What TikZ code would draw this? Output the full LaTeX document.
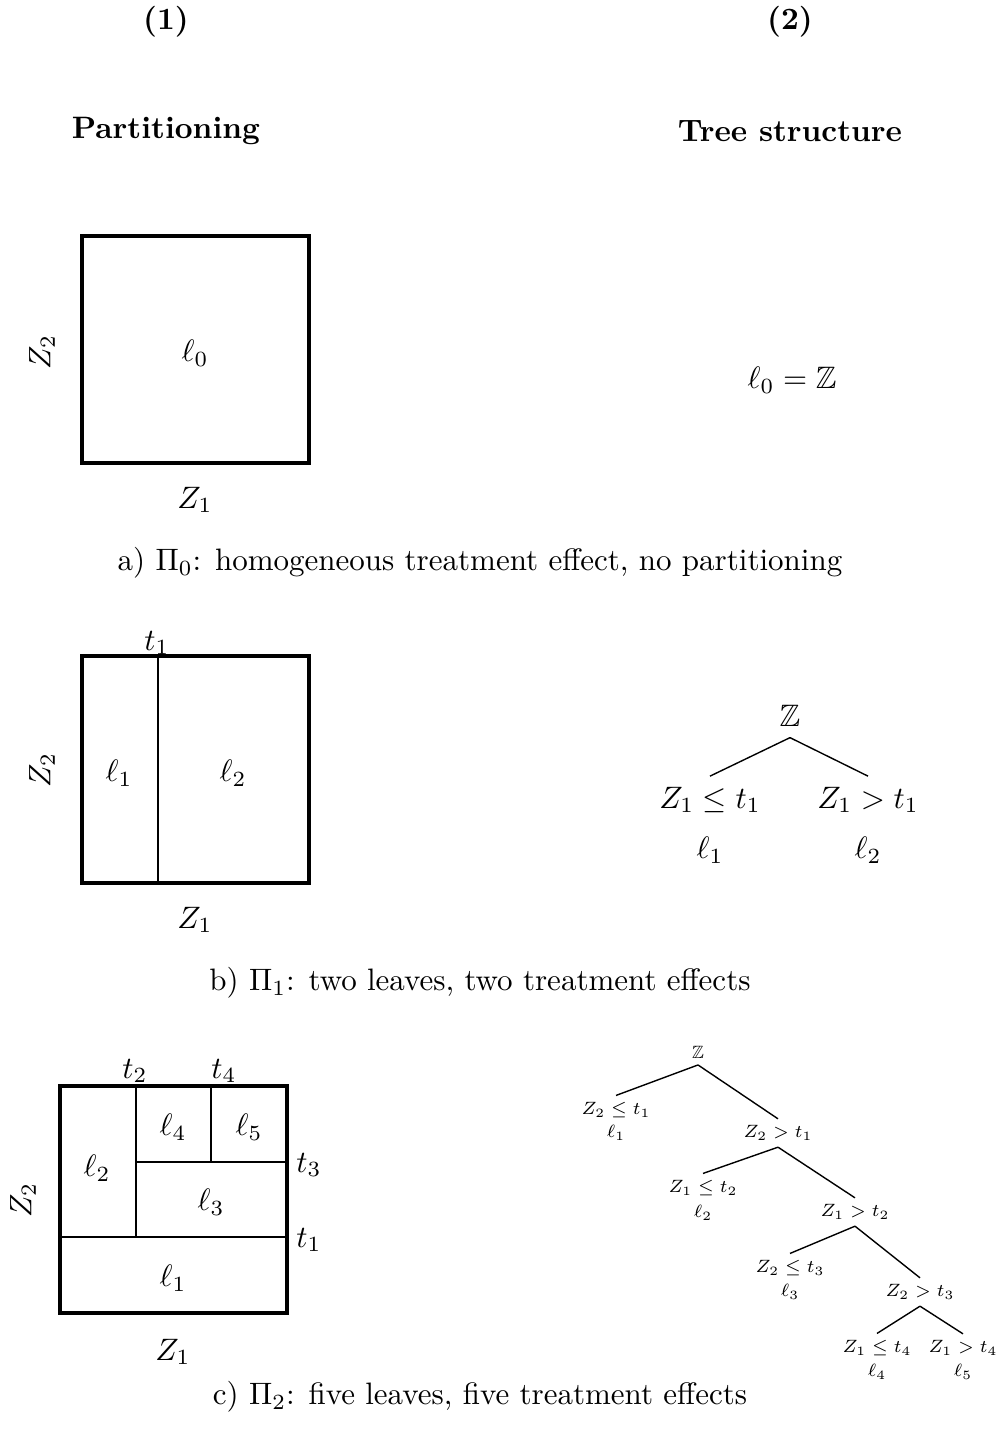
\documentclass[tikz,border=0pt]{standalone}
\usepackage{amssymb}
\newcommand{\tinymath}[1]{\scalebox{0.82}{\scriptsize$#1$}}
\begin{document}
\begin{tikzpicture}[x=0.3226pt,y=-0.3226pt,
  box/.style={line width=1.1pt,line join=miter},
  split/.style={line width=0.7pt},
  edge/.style={line width=0.45pt},
  sm/.style={inner sep=2pt},
  head/.style={font=\bfseries}]
\useasboundingbox (0,0) rectangle (997,1440);

% headings
\node[head] (h1) at (166,22) {(1)};
\node[head] (h2) at (790,22) {(2)};
\node[head] (p1) at (166,131) {Partitioning};
\node[head] (p2) at (790,131) {Tree structure};

% ---------- a) ----------
\draw[box] (82,236) rectangle (309,463);
\node (la0) at (195,353) {$\ell_0$};
\node[rotate=90] (za2) at (42,352) {$Z_2$};
\node (za1) at (195,500) {$Z_1$};
\node (ta) at (792,380) {$\ell_0=\mathbb{Z}$};
\node (capa) at (480,563) {a) $\Pi_0$: homogeneous treatment effect, no partitioning};

% ---------- b) ----------
\draw[box] (82,656) rectangle (309,883);
\draw[split] (158,656) -- (158,883);
\node (tb1) at (157,643) {$t_1$};
\node (lb1) at (119,773) {$\ell_1$};
\node (lb2) at (233,773) {$\ell_2$};
\node[rotate=90] (zb2) at (42,770) {$Z_2$};
\node (zb1) at (195,920) {$Z_1$};

\node (rb) at (790,716) {$\mathbb{Z}$};
\node (cb1) at (710,800) {$Z_1\leq t_1$};
\node (cb2) at (868,800) {$Z_1>t_1$};
\node (bl1) at (710,850) {$\ell_1$};
\node (bl2) at (868,850) {$\ell_2$};
\draw[edge] (rb.south) -- (cb1.north);
\draw[edge] (rb.south) -- (cb2.north);
\node (capb) at (480,983) {b) $\Pi_1$: two leaves, two treatment effects};

% ---------- c) ----------
\draw[box] (60,1086) rectangle (287,1313);
\draw[split] (136,1086) -- (136,1237);
\draw[split] (211,1086) -- (211,1162);
\draw[split] (136,1162) -- (287,1162);
\draw[split] (60,1237) -- (287,1237);
\node (tc2) at (135,1071) {$t_2$};
\node (tc4) at (224,1071) {$t_4$};
\node (tc3) at (309,1165) {$t_3$};
\node (tc1) at (309,1240) {$t_1$};
\node (lc2) at (97,1168) {$\ell_2$};
\node (lc4) at (173,1127) {$\ell_4$};
\node (lc5) at (249,1127) {$\ell_5$};
\node (lc3) at (211,1202) {$\ell_3$};
\node (lc1) at (173,1278) {$\ell_1$};
\node[rotate=90] (zc2) at (23,1200) {$Z_2$};
\node (zc1) at (173,1352) {$Z_1$};

\node[sm] (rc) at (698,1052) {\tinymath{\mathbb{Z}}};
\node[sm] (c1) at (616,1110) {\tinymath{Z_2\leq t_1}};
\node[sm] (e1) at (616,1133) {\tinymath{\ell_1}};
\node[sm] (c2) at (778,1133) {\tinymath{Z_2>t_1}};
\node[sm] (c3) at (703,1188) {\tinymath{Z_1\leq t_2}};
\node[sm] (e2) at (703,1213) {\tinymath{\ell_2}};
\node[sm] (c4) at (855,1212) {\tinymath{Z_1>t_2}};
\node[sm] (c5) at (790,1268) {\tinymath{Z_2\leq t_3}};
\node[sm] (e3) at (790,1292) {\tinymath{\ell_3}};
\node[sm] (c6) at (920,1292) {\tinymath{Z_2>t_3}};
\node[sm] (c7) at (877,1348) {\tinymath{Z_1\leq t_4}};
\node[sm] (e4) at (877,1372) {\tinymath{\ell_4}};
\node[sm] (c8) at (963,1348) {\tinymath{Z_1>t_4}};
\node[sm] (e5) at (963,1372) {\tinymath{\ell_5}};
\draw[edge] (rc.south) -- (c1.north);
\draw[edge] (rc.south) -- (c2.north);
\draw[edge] (c2.south) -- (c3.north);
\draw[edge] (c2.south) -- (c4.north);
\draw[edge] (c4.south) -- (c5.north);
\draw[edge] (c4.south) -- (c6.north);
\draw[edge] (c6.south) -- (c7.north);
\draw[edge] (c6.south) -- (c8.north);
\node (capc) at (480,1397) {c) $\Pi_2$: five leaves, five treatment effects};
\end{tikzpicture}
\end{document}
